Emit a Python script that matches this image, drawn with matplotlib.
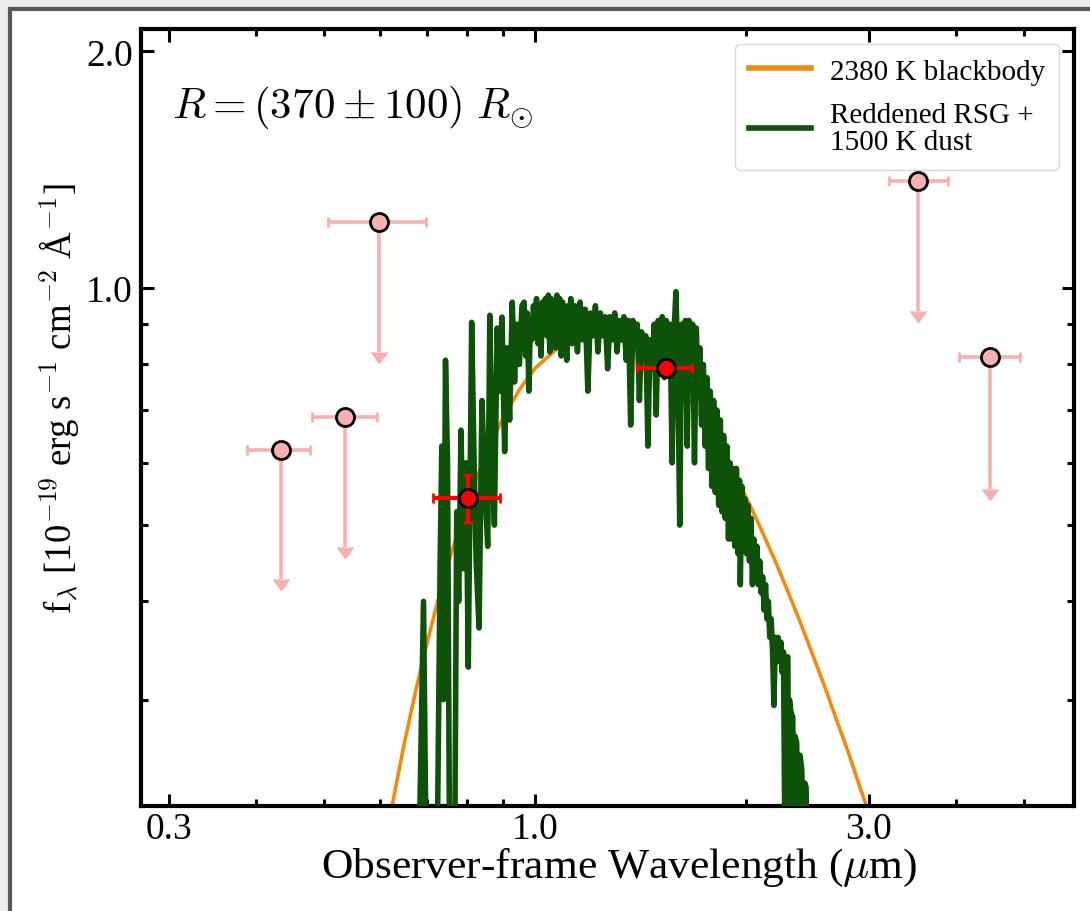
import numpy as np
import matplotlib
matplotlib.use('Agg')
import matplotlib.pyplot as plt
from matplotlib.patches import Rectangle
from matplotlib.ticker import FixedLocator, LogLocator, NullFormatter

plt.rcParams['font.family'] = ['Liberation Serif', 'DejaVu Serif']
plt.rcParams['mathtext.fontset'] = 'cm'

# 2380 K blackbody
bb_wl = [0.60, 0.61, 0.62, 0.63, 0.65, 0.675, 0.70, 0.725, 0.75, 0.775, 0.80, 0.825,
         0.85, 0.90, 0.95, 1.0, 1.1, 1.2, 1.3, 1.4, 1.5, 1.6, 1.7, 1.8, 1.9, 2.0,
         2.1, 2.2, 2.3, 2.4, 2.5, 2.6, 2.7, 2.8, 2.9, 3.0, 3.1]
bb_flux = [0.180, 0.196, 0.212, 0.228, 0.263, 0.307, 0.352, 0.398, 0.444, 0.488,
           0.532, 0.573, 0.613, 0.684, 0.743, 0.791, 0.853, 0.874, 0.866, 0.837,
           0.796, 0.750, 0.700, 0.649, 0.595, 0.544, 0.496, 0.452, 0.411, 0.374,
           0.340, 0.310, 0.282, 0.258, 0.235, 0.215, 0.197]

# reddened RSG + dust spectrum (green)
rsg_wl = [
    0.683, 0.693, 0.699, 0.725, 0.732, 0.736, 0.740, 0.745, 0.750, 0.755, 0.768,
    0.773, 0.778, 0.784, 0.790, 0.797, 0.803, 0.812, 0.818, 0.824, 0.832, 0.840,
    0.848, 0.856, 0.862, 0.868, 0.875, 0.883, 0.890, 0.897, 0.905, 0.912, 0.920,
    0.928, 0.935, 0.942, 0.950, 0.958,
    0.965, 0.970, 0.975, 0.980, 0.985, 0.990, 0.995, 1.000, 1.005, 1.010, 1.015,
    1.020, 1.025, 1.030, 1.035, 1.040, 1.045, 1.050, 1.055, 1.060, 1.065, 1.070,
    1.075, 1.080, 1.085, 1.090, 1.095, 1.100, 1.105, 1.110, 1.115, 1.120, 1.125,
    1.130, 1.140, 1.150, 1.160, 1.170, 1.180, 1.190, 1.200, 1.210, 1.220, 1.230,
    1.240, 1.250, 1.260, 1.270, 1.280, 1.290, 1.300, 1.310, 1.320, 1.330, 1.340,
    1.350, 1.360, 1.370, 1.380, 1.390, 1.400, 1.410, 1.420, 1.430, 1.440, 1.450,
    1.460, 1.470, 1.480, 1.490, 1.500, 1.510, 1.520, 1.530, 1.540, 1.550, 1.560,
    1.570, 1.580, 1.590, 1.600, 1.610, 1.620, 1.630, 1.640, 1.650, 1.660, 1.670,
    1.680, 1.690, 1.700, 1.710, 1.720, 1.730, 1.740, 1.750, 1.760, 1.770, 1.780,
    1.790, 1.800, 1.810, 1.820, 1.830, 1.840, 1.850, 1.860, 1.870, 1.880, 1.890,
    1.900, 1.910, 1.920, 1.930,
    1.940, 1.950, 1.960, 1.965, 1.975, 1.985, 1.995, 2.005, 2.015, 2.025, 2.035,
    2.045, 2.055, 2.065, 2.075, 2.085, 2.095, 2.105, 2.115, 2.125, 2.135, 2.145,
    2.155, 2.165, 2.175, 2.185, 2.195, 2.205, 2.215, 2.225, 2.235, 2.246, 2.255,
    2.265, 2.276, 2.285, 2.298, 2.302, 2.310, 2.320, 2.335, 2.345, 2.350, 2.365,
    2.380, 2.391, 2.405, 2.420, 2.430, 2.440, 2.445]
rsg_flux = [
    0.19, 0.40, 0.19, 0.19, 0.45, 0.63, 0.30, 0.81, 0.60, 0.19, 0.19,
    0.52, 0.40, 0.66, 0.44, 0.60, 0.33, 0.905, 0.62, 0.45, 0.37, 0.72,
    0.56, 0.47, 0.924, 0.64, 0.50, 0.89, 0.74, 0.919, 0.62, 0.84, 0.68,
    0.96, 0.76, 0.90, 0.80, 0.95,
    0.96, 0.82, 0.93, 0.74, 0.91, 0.86, 0.95, 0.87, 0.97, 0.85, 0.95,
    0.82, 0.96, 0.88, 0.97, 0.87, 0.98, 0.83, 0.97, 0.89, 0.96, 0.84,
    0.98, 0.88, 0.97, 0.82, 0.96, 0.89, 0.94, 0.81, 0.95, 0.87, 0.97,
    0.85, 0.95, 0.83, 0.96, 0.86, 0.94, 0.74, 0.93, 0.87, 0.95, 0.83,
    0.93, 0.87, 0.92, 0.79, 0.92, 0.86, 0.93, 0.83, 0.91, 0.86, 0.92,
    0.81, 0.91, 0.67, 0.91, 0.84, 0.90, 0.72, 0.88, 0.81, 0.87, 0.63,
    0.86, 0.79, 0.90, 0.69, 0.91, 0.81, 0.92, 0.77, 0.91, 0.82, 0.90,
    0.60, 0.88, 0.99, 0.78, 0.50, 0.90, 0.75, 0.91, 0.63, 0.91, 0.78,
    0.90, 0.60, 0.89, 0.75, 0.84, 0.67, 0.80, 0.63, 0.77, 0.59, 0.74,
    0.56, 0.72, 0.55, 0.70, 0.53, 0.68, 0.52, 0.65, 0.51, 0.63, 0.48,
    0.60, 0.48, 0.59, 0.47,
    0.59, 0.46, 0.57, 0.42, 0.56, 0.47, 0.54, 0.46, 0.53, 0.45, 0.51,
    0.42, 0.48, 0.44, 0.47, 0.42, 0.45, 0.41, 0.43, 0.39, 0.42, 0.38,
    0.40, 0.36, 0.38, 0.345, 0.295, 0.36, 0.335, 0.36, 0.34, 0.355, 0.325,
    0.345, 0.19, 0.34, 0.34, 0.19, 0.30, 0.29, 0.285, 0.19, 0.27, 0.265,
    0.19, 0.255, 0.245, 0.19, 0.235, 0.232, 0.19]

# photometric upper limits (pink)
lim_wl = np.array([0.434, 0.535, 0.599, 3.53, 4.47])
lim_wl_lo = np.array([0.388, 0.480, 0.506, 3.20, 4.04])
lim_wl_hi = np.array([0.477, 0.594, 0.699, 3.89, 4.93])
lim_flux = np.array([0.623, 0.686, 1.213, 1.367, 0.817])
lim_flux_end = np.array([0.427, 0.469, 0.829, 0.935, 0.556])

# detections (red)
det_wl = np.array([0.802, 1.539])
det_wl_lo = np.array([0.715, 1.399])
det_wl_hi = np.array([0.891, 1.675])
det_flux = np.array([0.541, 0.791])
det_flux_lo = np.array([0.504, 0.776])
det_flux_hi = np.array([0.579, 0.806])

orange = '#F08C0C'
green = '#0D5208'
pink = '#F7B0B0'

fig = plt.figure(figsize=(10.9, 9.12), dpi=100)
fig.patch.set_facecolor('#ececec')
fig.patches.append(Rectangle((10 / 1090, -0.05), 1.1, 1 - 10 / 912 + 0.05,
                             transform=fig.transFigure, facecolor='white',
                             edgecolor='#585858', lw=3, zorder=-10))

ax = fig.add_axes([141 / 1090, 1 - 807 / 912, 933 / 1090, 777 / 912])
ax.set_xscale('log')
ax.set_yscale('log')

ax.plot(bb_wl, bb_flux, color=orange, lw=2.6, zorder=2, label='2380 K blackbody')
ax.plot(rsg_wl, rsg_flux, color=green, lw=4.0, zorder=3,
        label='Reddened RSG +\n1500 K dust')

# upper-limit arrows
eb = ax.errorbar(lim_wl, lim_flux, yerr=lim_flux - lim_flux_end, uplims=True,
                 fmt='none', ecolor=pink, elinewidth=2.6, capsize=5.5, zorder=4)
for c in eb[1]:
    c.set_markerfacecolor(pink)
    c.set_markeredgecolor(pink)
ax.errorbar(lim_wl, lim_flux, xerr=[lim_wl - lim_wl_lo, lim_wl_hi - lim_wl],
            fmt='o', ms=13, mfc=pink, mec='k', mew=2, ecolor=pink,
            elinewidth=2.6, capsize=3.3, capthick=2.6, zorder=5)

ax.errorbar(det_wl, det_flux, xerr=[det_wl - det_wl_lo, det_wl_hi - det_wl],
            yerr=[det_flux - det_flux_lo, det_flux_hi - det_flux], fmt='o', ms=13,
            mfc='red', mec='k', mew=2, ecolor='red', elinewidth=3,
            capsize=3.5, capthick=3, zorder=6)

ax.set_xlim(0.2736, 5.89)
ax.set_ylim(0.2198, 2.135)

ax.xaxis.set_major_locator(FixedLocator([0.3, 1.0, 3.0]))
ax.set_xticklabels(['0.3', '1.0', '3.0'])
ax.xaxis.set_minor_locator(LogLocator(base=10, subs=np.arange(2, 10), numticks=20))
ax.xaxis.set_minor_formatter(NullFormatter())
ax.yaxis.set_major_locator(FixedLocator([1.0, 2.0]))
ax.set_yticklabels(['1.0', '2.0'])
ax.yaxis.set_minor_locator(LogLocator(base=10, subs=np.arange(2, 10), numticks=20))
ax.yaxis.set_minor_formatter(NullFormatter())

ax.tick_params(which='both', direction='in', top=True, right=True,
               labelsize=27, width=2.2)
ax.tick_params(which='major', length=9)
ax.tick_params(which='minor', length=5)
ax.tick_params(axis='x', pad=4)
ax.tick_params(axis='y', pad=6)
for s in ax.spines.values():
    s.set_linewidth(3)

ax.set_xlabel(r'Observer-frame Wavelength ($\mu$m)', fontsize=31.3, labelpad=0)
ax.xaxis.label.set_x(0.513)
ax.set_ylabel('f$_\\lambda$ [10$^{-19}$ erg s$^{-1}$ cm$^{-2}$ Å$^{-1}$]',
              fontsize=26.5)
ax.yaxis.set_label_coords(-0.063, 0.525)

ax.text(0.033, 0.9, r'$R = (370 \pm 100)\ R_{\odot}$', transform=ax.transAxes,
        fontsize=31, va='center', ha='left')

leg = ax.legend(loc='upper right', fontsize=21, handlelength=2.1, frameon=True,
                edgecolor='#d9d9d9', framealpha=1, borderpad=0.5,
                labelspacing=0.6, handletextpad=0.65)
for ln in leg.get_lines():
    ln.set_linewidth(4)
for t in leg.get_texts():
    t.set_linespacing(1.05)

fig.savefig('out.png', dpi=100, facecolor=fig.get_facecolor())
